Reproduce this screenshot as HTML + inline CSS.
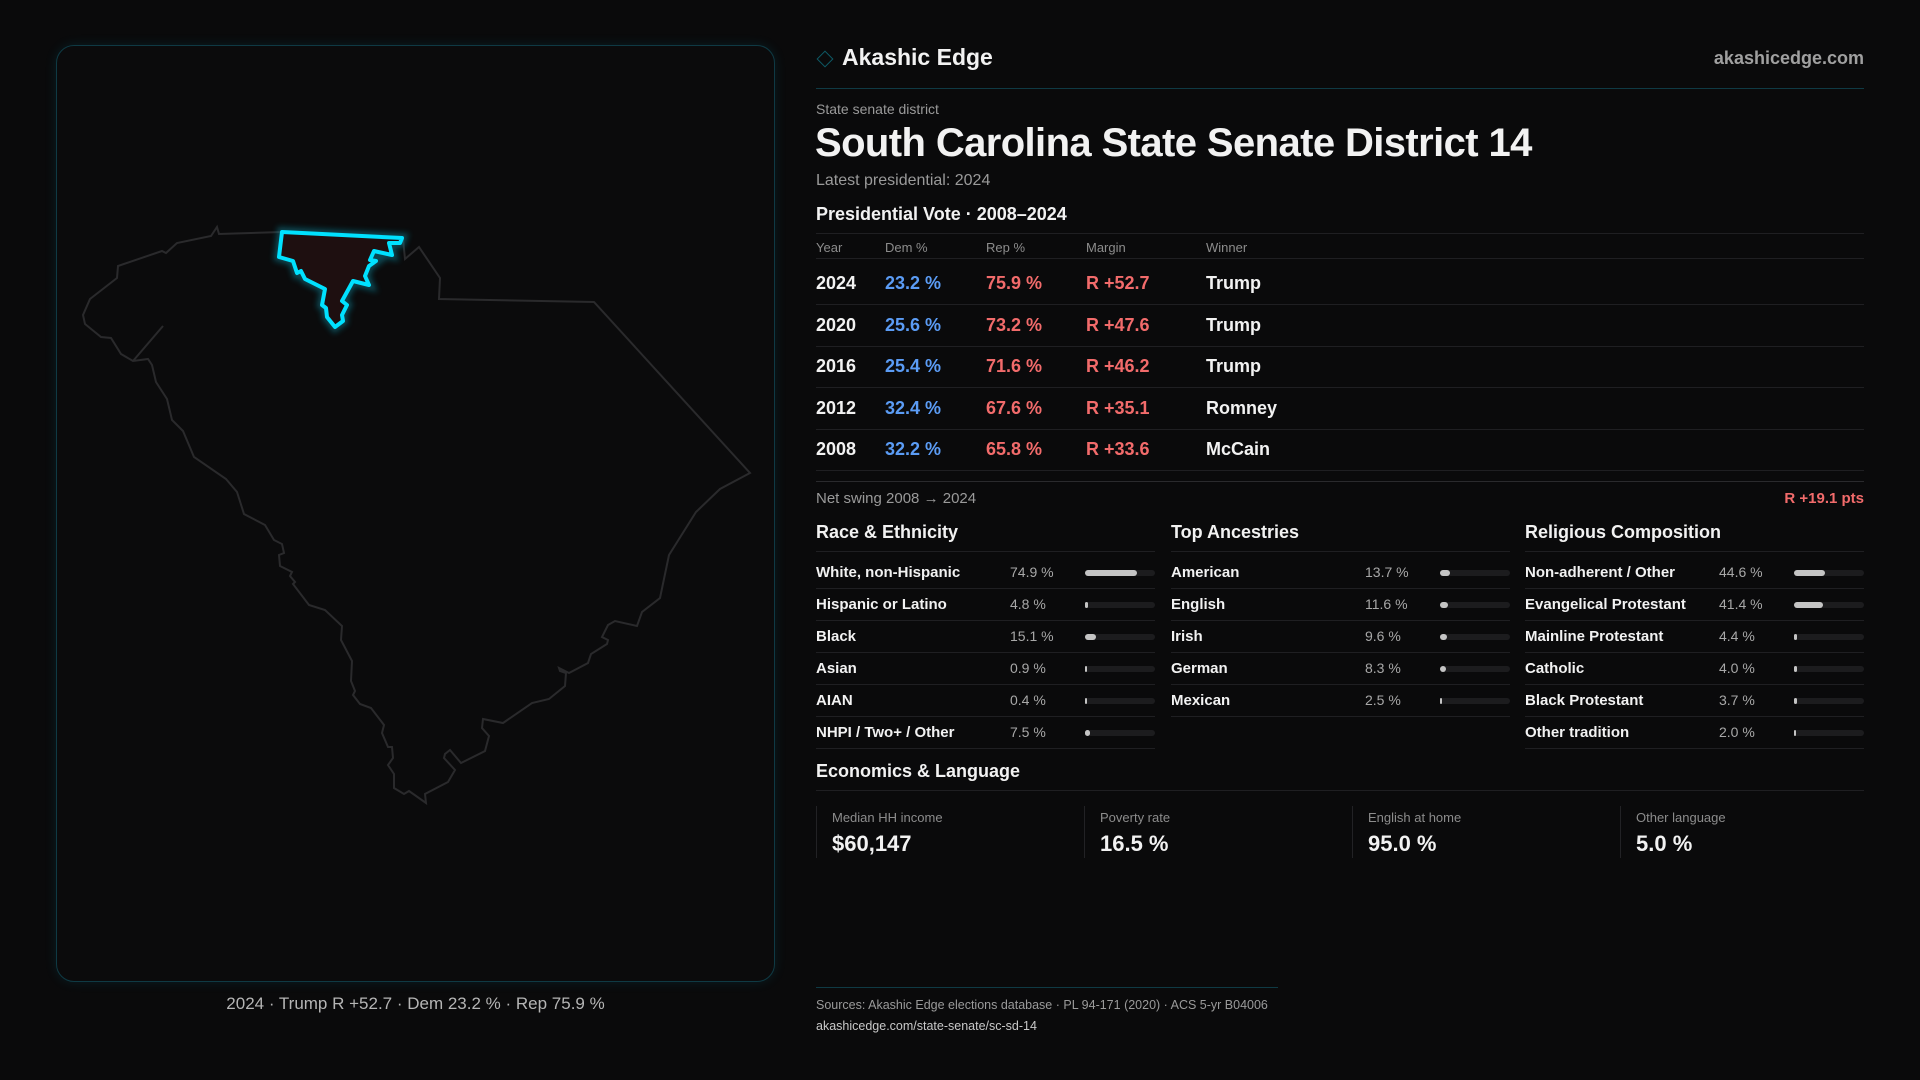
<!DOCTYPE html>
<html><head><meta charset="utf-8"><style>
*{box-sizing:border-box;margin:0;padding:0}
body{width:1920px;height:1080px;background:#0a0a0b;font-family:"Liberation Sans",sans-serif;color:#f2f2f2;position:relative;overflow:hidden}
.a{position:absolute;white-space:nowrap}
.g{color:#9a9a9a}
.ln{position:absolute;height:1px;background:#1f1f22}
</style></head><body>
<div class="a" style="left:56px;top:45px;width:719px;height:937px;border:1px solid #0f3a44;border-radius:18px;background:#0b0b0c;box-shadow:0 0 12px rgba(0,180,210,0.12)"></div>
<svg class="a" style="left:0;top:0" width="800" height="1000">
<defs><filter id="gl" x="-20%" y="-20%" width="140%" height="140%"><feGaussianBlur stdDeviation="3"/></filter></defs>
<polygon fill="none" stroke="#2a2a2c" stroke-width="2" points="219,234 217,227 211,236 177,243 166,253 162,251 118,266 117,278 90,299 83,315 85,324 101,337 111,338 121,354 133,361 148,359 152,365 156,382 167,399 172,420 183,431 194,457 226,479 237,492 244,514 265,525 274,540 282,544 284,553 279,555 280,566 292,572 290,576 295,582 293,584 309,605 325,610 342,626 341,640 352,661 351,681 355,691 353,695 360,704 371,708 384,725 382,733 388,747 392,747 393,758 388,765 394,774 394,788 404,794 409,791 426,803 425,794 448,782 455,770 444,758 445,754 450,750 461,763 485,751 489,736 482,728 483,719 503,723 532,703 549,699 565,686 566,673 560,671 559,668 569,673 588,663 591,654 607,644 608,640 602,637 608,625 615,621 637,626 642,612 660,598 669,555 696,512 720,489 750,473 594,302 439,299 440,278 419,247 405,259 403,239 282,232"/>
<polyline fill="none" stroke="#2a2a2c" stroke-width="2" points="163,326 133,361"/>
<g>
<polygon fill="none" stroke="#0a8fa5" stroke-width="10" opacity="0.45" filter="url(#gl)" points="282,232 402,238 400,243 389,243 392,255 374,251 370,260 376,261 369,266 365,276 369,285 353,281 342,301 347,305 342,315 343,321 335,327 327,317 326,308 322,305 325,289 305,279 301,271 297,273 293,261 279,257"/>
<polygon fill="#1e0f10" stroke="#00e1ff" stroke-width="4" stroke-linejoin="round" points="282,232 402,238 400,243 389,243 392,255 374,251 370,260 376,261 369,266 365,276 369,285 353,281 342,301 347,305 342,315 343,321 335,327 327,317 326,308 322,305 325,289 305,279 301,271 297,273 293,261 279,257"/>
</g></svg>
<div class="a" style="left:56px;width:719px;top:994px;text-align:center;font-size:17px;color:#b5b5b5">2024 · Trump R +52.7 · Dem 23.2 % · Rep 75.9 %</div>

<div class="a" style="left:819px;top:53px;width:12px;height:12px;border:1.5px solid #0e5a66;transform:rotate(45deg)"></div>
<div class="a" style="left:842px;top:44px;font-size:23px;font-weight:bold">Akashic Edge</div>
<div class="a g" style="right:56px;top:48px;font-size:18px;font-weight:bold;color:#a0a0a0">akashicedge.com</div>
<div class="ln" style="left:816px;width:1048px;top:88px;background:#0f3a44"></div>
<div class="a g" style="left:816px;top:101px;font-size:14px">State senate district</div>
<div class="a" style="left:815px;top:121px;font-size:40px;font-weight:bold;letter-spacing:-0.6px">South Carolina State Senate District 14</div>
<div class="a g" style="left:816px;top:172px;font-size:16px">Latest presidential: 2024</div>
<div class="a" style="left:816px;top:204px;font-size:18px;font-weight:bold">Presidential Vote · 2008–2024</div>
<div id="tbl"></div>
<div class="ln" style="left:816px;width:1048px;top:481px;background:#2a2a2d"></div>
<div class="a g" style="left:816px;top:490px;font-size:15px">Net swing 2008 → 2024</div>
<div class="a" style="right:56px;top:490px;font-size:15px;color:#f26b6b;font-weight:bold">R +19.1 pts</div>
<div id="demo"></div>
<div class="a" style="left:816px;top:761px;font-size:18px;font-weight:bold">Economics &amp; Language</div>
<div class="ln" style="left:816px;width:1048px;top:790px"></div>
<div id="econ"></div>
<div class="ln" style="left:816px;width:462px;top:987px;background:#0f3a44"></div>
<div class="a g" style="left:816px;top:998px;font-size:12.5px">Sources: Akashic Edge elections database · PL 94-171 (2020) · ACS 5-yr B04006</div>
<div class="a" style="left:816px;top:1019px;font-size:12.5px;color:#c8c8c8">akashicedge.com/state-senate/sc-sd-14</div>
<script>
const years=['2024','2020','2016','2012','2008'];
const demPct=[23.2,25.6,25.4,32.4,32.2];
const repPct=[75.9,73.2,71.6,67.6,65.8];
const marginVals=[52.7,47.6,46.2,35.1,33.6];
const winners=['Trump','Trump','Trump','Romney','McCain'];
const raceLabels=['White, non-Hispanic','Hispanic or Latino','Black','Asian','AIAN','NHPI / Two+ / Other'];
const raceValues=[74.9,4.8,15.1,0.9,0.4,7.5];
const ancLabels=['American','English','Irish','German','Mexican'];
const ancValues=[13.7,11.6,9.6,8.3,2.5];
const relLabels=['Non-adherent / Other','Evangelical Protestant','Mainline Protestant','Catholic','Black Protestant','Other tradition'];
const relValues=[44.6,41.4,4.4,4.0,3.7,2.0];
const econLabels=['Median HH income','Poverty rate','English at home','Other language'];
const econValues=['$60,147','16.5 %','95.0 %','5.0 %'];

function el(parent,css,txt){const d=document.createElement('div');d.className='a';d.style.cssText=css;if(txt!==undefined)d.textContent=txt;parent.appendChild(d);return d;}
const tbl=document.getElementById('tbl');
const cols=[816,885,986,1086,1206];
['Year','Dem %','Rep %','Margin','Winner'].forEach((h,i)=>{
  const d=el(tbl,`left:${cols[i]}px;top:240px;font-size:13px;color:#8c8c8c`,h);
  
  
});
[233,258].forEach(y=>el(tbl,`left:816px;width:1048px;top:${y}px;height:1px;background:#1f1f22`));
years.forEach((y,i)=>{
  const top=273+i*41.6;
  const row=el(tbl,`left:816px;top:${top}px;width:1048px;height:30px`);
  
  
  const vals=[[y,'#f2f2f2'],[demPct[i].toFixed(1)+' %','#5b9cf5'],[repPct[i].toFixed(1)+' %','#f26b6b'],['R +'+marginVals[i].toFixed(1),'#f26b6b'],[winners[i],'#f2f2f2']];
  vals.forEach((v,j)=>el(row,`left:${cols[j]-816}px;top:0;font-size:18px;font-weight:bold;color:${v[1]}`,v[0]));
  el(tbl,`left:816px;width:1048px;top:${top+31}px;height:1px;background:#1f1f22`);
});
const demo=document.getElementById('demo');
function section(x,w,title,labels,values,name){
  const t=el(demo,`left:${x}px;top:522px;font-size:18px;font-weight:bold`,title);
  
  
  el(demo,`left:${x}px;width:${w}px;top:551px;height:1px;background:#1f1f22`);
  labels.forEach((l,i)=>{
    const top=564+i*31.9;
    const r=el(demo,`left:${x}px;top:${top}px;width:${w}px;height:20px`);
    
    
    el(r,'left:0;top:0;font-size:15px;font-weight:bold',l);
    el(r,'left:194px;top:0;font-size:14px;color:#a8a8a8',values[i].toFixed(1)+' %');
    const trackW=w-269;
    const tr=el(r,`left:269px;top:6px;width:${trackW}px;height:6px;border-radius:3px;background:#1c1c1e`);
    const b=el(tr,`left:0;top:0;height:6px;border-radius:3px;background:#c4c4c4;width:${Math.max(2,values[i]/100*trackW)}px`);
    
    
    el(demo,`left:${x}px;width:${w}px;top:${top+24}px;height:1px;background:#1f1f22`);
  });
}
section(816,339,'Race & Ethnicity',raceLabels,raceValues,'race');
section(1171,339,'Top Ancestries',ancLabels,ancValues,'ancestry');
section(1525,339,'Religious Composition',relLabels,relValues,'religion');
const econ=document.getElementById('econ');
econLabels.forEach((l,i)=>{
  const x=816+i*268;
  const c=el(econ,`left:${x}px;top:806px;width:250px;height:52px;border-left:1px solid #222225`);
  
  
  el(c,'left:15px;top:4px;font-size:13px;color:#8c8c8c',l);
  el(c,'left:15px;top:25px;font-size:22px;font-weight:bold',econValues[i]);
});
</script>
</body></html>
